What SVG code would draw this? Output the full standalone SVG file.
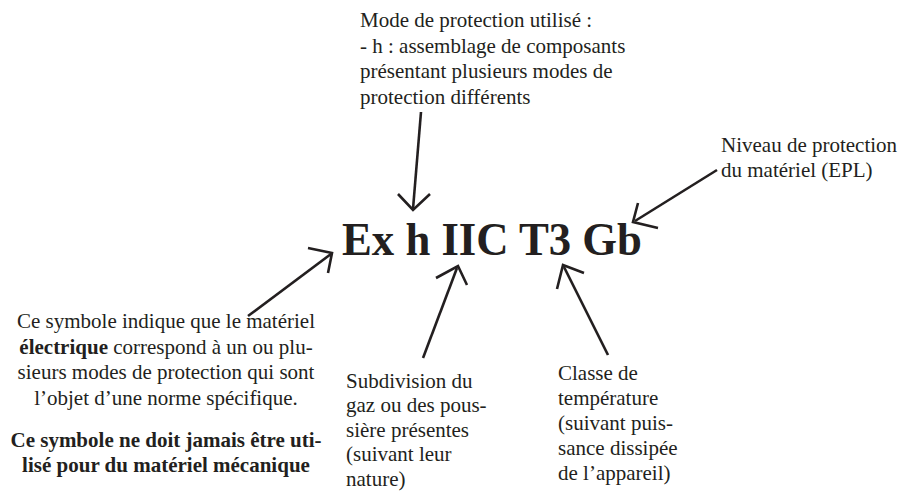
<svg xmlns="http://www.w3.org/2000/svg" width="901" height="495" viewBox="0 0 901 495">
<style>
text{font-family:"Liberation Serif","Times New Roman",serif;fill:#231f20;font-size:21px}
.b{font-weight:bold}
.big{font-size:47px;font-weight:bold}
.c{text-anchor:middle}
.arr{fill:none;stroke:#231f20;stroke-width:2.6;stroke-linecap:butt;stroke-linejoin:miter}
</style>
<rect width="901" height="495" fill="#ffffff"/>
<g id="connectors">
<path class="arr" d="M421,112 L413,209"/>
<path class="arr" d="M398,194 L413,210 L430,194"/>
<path class="arr" d="M248,316 L331,254"/>
<path class="arr" d="M308,248 L332,253 L328,273"/>
<path class="arr" d="M423,358 L457,268"/>
<path class="arr" d="M436,278 L458,266 L467,285"/>
<path class="arr" d="M608,355 L564,267"/>
<path class="arr" d="M557,289 L563,265 L584,273"/>
<path class="arr" d="M717,170 L635,221"/>
<path class="arr" d="M638,203 L633,222 L658,228"/>
</g>
<g id="code">
<text class="big" x="342" y="255" textLength="300" lengthAdjust="spacingAndGlyphs">Ex h IIC T3 Gb</text>
</g>
<g id="label-mode">
<text x="360" y="27">Mode de protection utilisé :</text>
<text x="360" y="53">- h : assemblage de composants</text>
<text x="360" y="78">présentant plusieurs modes de</text>
<text x="360" y="104">protection différents</text>
</g>
<g id="label-epl">
<text x="721" y="152">Niveau de protection</text>
<text x="721" y="177">du matériel (EPL)</text>
</g>
<g id="label-ex">
<text class="c" x="166" y="328">Ce symbole indique que le matériel</text>
<text class="c" x="166" y="354"><tspan class="b">électrique</tspan> correspond à un ou plu-</text>
<text class="c" x="166" y="379">sieurs modes de protection qui sont</text>
<text class="c" x="166" y="405">l’objet d’une norme spécifique.</text>
<text class="c b" x="166" y="447">Ce symbole ne doit jamais être uti-</text>
<text class="c b" x="166" y="472">lisé pour du matériel mécanique</text>
</g>
<g id="label-gaz">
<text x="346" y="388">Subdivision du</text>
<text x="346" y="412">gaz ou des pous-</text>
<text x="346" y="437">sière présentes</text>
<text x="346" y="461">(suivant leur</text>
<text x="346" y="486">nature)</text>
</g>
<g id="label-temp">
<text x="558" y="380">Classe de</text>
<text x="558" y="405">température</text>
<text x="558" y="430">(suivant puis-</text>
<text x="558" y="455">sance dissipée</text>
<text x="558" y="480">de l’appareil)</text>
</g>
</svg>
